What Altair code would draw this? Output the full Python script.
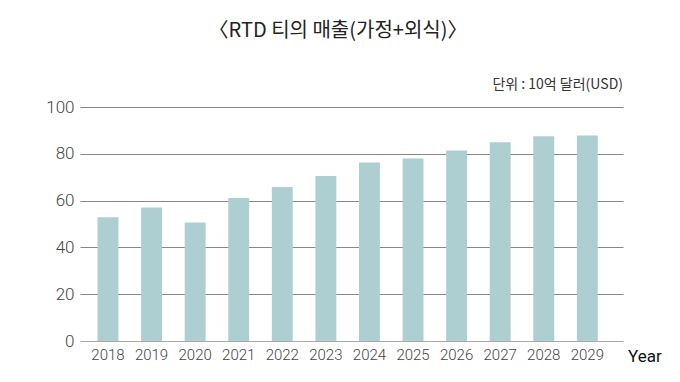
import altair as alt
import pandas as pd

years = ["2018", "2019", "2020", "2021", "2022", "2023", "2024", "2025", "2026", "2027", "2028", "2029"]
sales = [52.9, 57.1, 50.6, 61.1, 65.8, 70.5, 76.3, 78.0, 81.4, 84.9, 87.5, 87.8]
y_ticks = [0, 20, 40, 60, 80, 100]
title_text = "〈RTD 티의 매출(가정+외식)〉"
unit_text = "단위 : 10억 달러(USD)"
x_label = "Year"

df = pd.DataFrame({"year": years, "sales": sales})

NARROW = "Roboto, sans-serif"
KFONT = "Noto Sans CJK KR, Noto Sans, sans-serif"

bars = alt.Chart(df).mark_bar(color="#aecfd2").encode(
    x=alt.X(
        "year:N",
        sort=years,
        title=None,
        scale=alt.Scale(paddingInner=0.52, paddingOuter=0.49, align=0.41),
        axis=alt.Axis(
            labelAngle=0,
            ticks=False,
            domain=False,
            labelFont=NARROW,
            labelFontSize=15,
            labelFontWeight=300,
            labelColor="#444",
            labelPadding=6,
        ),
    ),
    y=alt.Y(
        "sales:Q",
        title=None,
        scale=alt.Scale(domain=[0, 100], nice=False),
        axis=alt.Axis(
            values=y_ticks,
            ticks=False,
            domain=False,
            grid=True,
            gridColor=alt.condition("datum.value == 0", alt.value("#aaaaaa"), alt.value("#888888")),
            gridWidth=1.2,
            labelFont=NARROW,
            labelFontSize=17,
            labelFontWeight=300,
            labelColor="#444",
            labelPadding=6,
        ),
    ),
)

one = alt.Data(values=[{"a": 1}])

title = alt.Chart(one).mark_text(
    text=title_text, font=KFONT, fontSize=20, color="#222", align="center", baseline="alphabetic"
).encode(x=alt.value(258), y=alt.value(-70))

unit = alt.Chart(one).mark_text(
    text=unit_text, font=KFONT, fontSize=14, color="#333", align="right", baseline="alphabetic"
).encode(x=alt.value(543), y=alt.value(-18))

year_lbl = alt.Chart(one).mark_text(
    text=x_label, font="Roboto, sans-serif", fontSize=17, color="#111", align="left", baseline="alphabetic"
).encode(x=alt.value(548), y=alt.value(255))

chart = alt.layer(bars, title, unit, year_lbl).properties(
    width=543,
    height=234,
    autosize=alt.AutoSizeParams(type="none"),
    padding={"left": 72, "top": 99, "right": 49, "bottom": 33},
).configure_view(stroke=None)

chart.save("out.html", embed_options={"renderer": "svg", "actions": False})
